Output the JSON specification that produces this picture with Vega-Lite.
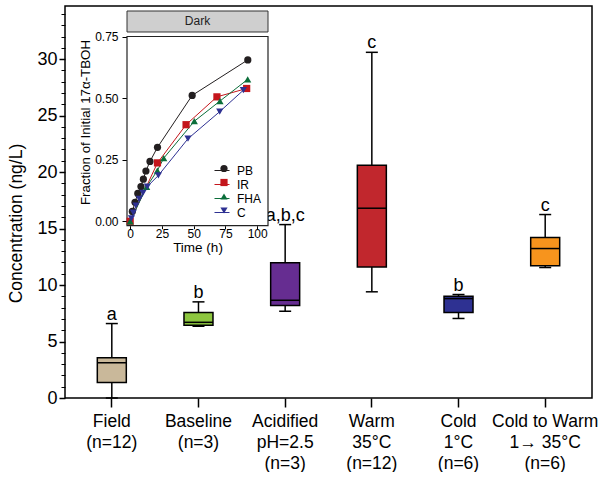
{
  "$schema": "https://vega.github.io/schema/vega-lite/v6.json",
  "padding": {"left": 7, "top": 6, "right": 0, "bottom": 0},
  "background": "white",
  "width": 527,
  "height": 392,
  "config": {
    "font": "Liberation Sans",
    "view": {"stroke": "black", "strokeWidth": 1.5},
    "axis": {"grid": false, "domain": false, "tickColor": "black", "labelColor": "black", "titleColor": "black", "titleFontWeight": "normal", "labelFont": "Liberation Sans", "titleFont": "Liberation Sans"},
    "text": {"font": "Liberation Sans", "color": "black"}
  },
  "layer": [
    {
      "data": {"values": [
        {"group": "Field\n(n=12)", "lo": 0.0, "q1": 1.37, "med": 3.12, "q3": 3.56, "hi": 6.59, "sig": "a"},
        {"group": "Baseline\n(n=3)", "lo": 6.35, "q1": 6.45, "med": 6.7, "q3": 7.57, "hi": 8.51, "sig": "b"},
        {"group": "Acidified\npH=2.5\n(n=3)", "lo": 7.68, "q1": 8.19, "med": 8.65, "q3": 11.98, "hi": 15.35, "sig": "a,b,c"},
        {"group": "Warm\n35°C\n(n=12)", "lo": 9.4, "q1": 11.6, "med": 16.8, "q3": 20.6, "hi": 30.6, "sig": "c"},
        {"group": "Cold\n1°C\n(n=6)", "lo": 7.04, "q1": 7.57, "med": 8.8, "q3": 9.0, "hi": 9.16, "sig": "b"},
        {"group": "Cold to Warm\n1→ 35°C\n(n=6)", "lo": 11.55, "q1": 11.7, "med": 13.23, "q3": 14.2, "hi": 16.24, "sig": "c"}
      ]},
      "encoding": {
        "x": {
          "field": "group", "type": "nominal", "sort": null,
          "scale": {"paddingInner": 0, "paddingOuter": 0.04},
          "axis": {"orient": "bottom", "title": null, "labelAngle": 0, "labelExpr": "split(datum.value, '\\n')", "labelFontSize": 17.5, "labelLineHeight": 21, "labelPadding": 5, "tickSize": 9, "tickWidth": 1.5, "labelAlign": "center"}
        }
      },
      "layer": [
        {
          "mark": {"type": "rule", "stroke": "black", "strokeWidth": 1.5},
          "encoding": {
            "y": {"field": "lo", "type": "quantitative", "scale": {"domain": [0, 34.7], "nice": false, "zero": false},
              "axis": {"orient": "left", "values": [0, 5, 10, 15, 20, 25, 30], "title": "Concentration (ng/L)", "titleFontSize": 17.5, "titlePadding": 11.5, "titleY": 217, "labelFontSize": 18, "tickSize": 6, "tickWidth": 1.5, "labelPadding": 2}},
            "y2": {"field": "hi"}
          }
        },
        {
          "mark": {"type": "bar", "width": 29, "stroke": "black", "strokeWidth": 1.5},
          "encoding": {
            "y": {"field": "q1", "type": "quantitative", "axis": null},
            "y2": {"field": "q3"},
            "fill": {"field": "group", "type": "nominal", "sort": null, "legend": null,
              "scale": {"range": ["#c9b89a", "#8dc63f", "#662d91", "#c1272d", "#2e3192", "#f7941d"]}}
          }
        },
        {
          "mark": {"type": "tick", "color": "black", "size": 29, "thickness": 1.5, "opacity": 1},
          "encoding": {"y": {"field": "med", "type": "quantitative", "axis": null}}
        },
        {
          "mark": {"type": "tick", "color": "black", "size": 12, "thickness": 1.5, "opacity": 1},
          "encoding": {"y": {"field": "hi", "type": "quantitative", "axis": null}}
        },
        {
          "mark": {"type": "tick", "color": "black", "size": 12, "thickness": 1.5, "opacity": 1},
          "encoding": {"y": {"field": "lo", "type": "quantitative", "axis": null}}
        },
        {
          "mark": {"type": "text", "baseline": "alphabetic", "dy": -4, "fontSize": 18},
          "encoding": {
            "y": {"field": "hi", "type": "quantitative",
              "axis": {"orient": "left", "values": [1, 2, 3, 4, 6, 7, 8, 9, 11, 12, 13, 14, 16, 17, 18, 19, 21, 22, 23, 24, 26, 27, 28, 29, 31, 32, 33, 34], "labels": false, "title": null, "tickSize": 4, "tickWidth": 1}},
            "text": {"field": "sig"}
          }
        }
      ],
      "resolve": {"axis": {"y": "independent"}}
    },
    {
      "data": {"values": [
        {"series": "PB", "t": 1.7, "f": 0.040}, {"series": "PB", "t": 3.8, "f": 0.077}, {"series": "PB", "t": 6.0, "f": 0.113},
        {"series": "PB", "t": 8.5, "f": 0.141}, {"series": "PB", "t": 10.4, "f": 0.171}, {"series": "PB", "t": 12.4, "f": 0.204},
        {"series": "PB", "t": 15.6, "f": 0.243}, {"series": "PB", "t": 21.5, "f": 0.300}, {"series": "PB", "t": 48.8, "f": 0.511},
        {"series": "PB", "t": 92.6, "f": 0.655},
        {"series": "IR", "t": 0.0, "f": 0.0}, {"series": "IR", "t": 21.5, "f": 0.237}, {"series": "IR", "t": 44.0, "f": 0.392},
        {"series": "IR", "t": 68.3, "f": 0.505}, {"series": "IR", "t": 91.7, "f": 0.539},
        {"series": "FHA", "t": 0.0, "f": 0.0}, {"series": "FHA", "t": 13.0, "f": 0.14}, {"series": "FHA", "t": 21.4, "f": 0.206},
        {"series": "FHA", "t": 26.4, "f": 0.256}, {"series": "FHA", "t": 50.5, "f": 0.406}, {"series": "FHA", "t": 70.7, "f": 0.488},
        {"series": "FHA", "t": 92.5, "f": 0.576},
        {"series": "C", "t": 1.0, "f": 0.012}, {"series": "C", "t": 2.5, "f": 0.035}, {"series": "C", "t": 4.5, "f": 0.064},
        {"series": "C", "t": 7.2, "f": 0.091}, {"series": "C", "t": 10.1, "f": 0.115}, {"series": "C", "t": 13.5, "f": 0.141},
        {"series": "C", "t": 22.2, "f": 0.186}, {"series": "C", "t": 45.5, "f": 0.335}, {"series": "C", "t": 70.5, "f": 0.445},
        {"series": "C", "t": 89.1, "f": 0.532}
      ]},
      "layer": [
        {
          "data": {"values": [{"label": "Dark"}]},
          "mark": {"type": "rect", "fill": "white", "stroke": "#222222", "strokeWidth": 1.2},
          "encoding": {
            "x": {"datum": -2.5, "type": "quantitative", "scale": {"domain": [-2.5, 108.5], "range": [62, 203], "nice": false, "zero": false},
              "axis": {"orient": "bottom", "offset": -172.3, "title": "Time (h)", "values": [0, 25, 50, 75, 100], "labelFontSize": 12, "titleFontSize": 13.5, "tickSize": 3, "labelPadding": 0, "titlePadding": 1}},
            "x2": {"datum": 108.5},
            "y": {"datum": -0.018, "type": "quantitative", "scale": {"domain": [-0.018, 0.75], "range": [219.7, 30.5], "nice": false, "zero": false},
              "axis": {"orient": "left", "offset": -62, "title": "Fraction of Initial 17α-TBOH", "values": [0, 0.25, 0.5, 0.75], "format": ".2f", "labelFontSize": 12, "titleFontSize": 13.3, "tickSize": 5, "labelPadding": 4, "titlePadding": 2, "titleY": 116}},
            "y2": {"datum": 0.75}
          }
        },
        {
          "data": {"values": [{"label": "Dark"}]},
          "mark": {"type": "rect", "fill": "#cfcfcf", "stroke": "#333333", "strokeWidth": 1},
          "encoding": {
            "x": {"datum": -2.5, "type": "quantitative",
              "axis": {"orient": "bottom", "offset": -172.3, "title": "Time (h)", "values": [0, 25, 50, 75, 100], "labelFontSize": 12, "titleFontSize": 13.5, "tickSize": 3, "labelPadding": 0, "titlePadding": 1}},
            "x2": {"datum": 108.5},
            "y": {"datum": 0.7683, "type": "quantitative",
              "axis": {"orient": "left", "offset": -62, "title": "Fraction of Initial 17α-TBOH", "values": [0, 0.25, 0.5, 0.75], "format": ".2f", "labelFontSize": 12, "titleFontSize": 13.3, "tickSize": 5, "labelPadding": 4, "titlePadding": 2, "titleY": 116}},
            "y2": {"datum": 0.8535}
          }
        },
        {
          "data": {"values": [{"label": "Dark"}]},
          "mark": {"type": "text", "fontSize": 12, "baseline": "middle", "color": "#222222"},
          "encoding": {
            "x": {"datum": 53, "type": "quantitative",
              "axis": {"orient": "bottom", "offset": -172.3, "title": "Time (h)", "values": [0, 25, 50, 75, 100], "labelFontSize": 12, "titleFontSize": 13.5, "tickSize": 3, "labelPadding": 0, "titlePadding": 1}},
            "y": {"datum": 0.811, "type": "quantitative",
              "axis": {"orient": "left", "offset": -62, "title": "Fraction of Initial 17α-TBOH", "values": [0, 0.25, 0.5, 0.75], "format": ".2f", "labelFontSize": 12, "titleFontSize": 13.3, "tickSize": 5, "labelPadding": 4, "titlePadding": 2, "titleY": 116}},
            "text": {"field": "label"}
          }
        },
        {
          "mark": {"type": "line", "strokeWidth": 1},
          "encoding": {
            "x": {"field": "t", "type": "quantitative",
              "axis": {"orient": "bottom", "offset": -172.3, "title": "Time (h)", "values": [0, 25, 50, 75, 100], "labelFontSize": 12, "titleFontSize": 13.5, "tickSize": 3, "labelPadding": 0, "titlePadding": 1}},
            "y": {"field": "f", "type": "quantitative",
              "axis": {"orient": "left", "offset": -62, "title": "Fraction of Initial 17α-TBOH", "values": [0, 0.25, 0.5, 0.75], "format": ".2f", "labelFontSize": 12, "titleFontSize": 13.3, "tickSize": 5, "labelPadding": 4, "titlePadding": 2, "titleY": 116}},
            "color": {"field": "series", "type": "nominal",
              "scale": {"domain": ["PB", "IR", "FHA", "C"], "range": ["#231f20", "#c4161c", "#0b6e3a", "#2e3192"]},
              "legend": {"title": null, "orient": "none", "legendX": 149, "legendY": 156.5, "symbolType": "stroke", "symbolSize": 225, "symbolStrokeWidth": 1, "labelFontSize": 12, "labelOffset": 7, "rowPadding": 0, "padding": 0}}
          }
        },
        {
          "mark": {"type": "point", "filled": true, "size": 52, "opacity": 1},
          "encoding": {
            "x": {"field": "t", "type": "quantitative",
              "axis": {"orient": "bottom", "offset": -172.3, "title": "Time (h)", "values": [0, 25, 50, 75, 100], "labelFontSize": 12, "titleFontSize": 13.5, "tickSize": 3, "labelPadding": 0, "titlePadding": 1}},
            "y": {"field": "f", "type": "quantitative",
              "axis": {"orient": "left", "offset": -62, "title": "Fraction of Initial 17α-TBOH", "values": [0, 0.25, 0.5, 0.75], "format": ".2f", "labelFontSize": 12, "titleFontSize": 13.3, "tickSize": 5, "labelPadding": 4, "titlePadding": 2, "titleY": 116}},
            "color": {"field": "series", "type": "nominal",
              "legend": {"title": null, "orient": "none", "legendX": 153, "legendY": 156.5, "symbolSize": 52, "labelExpr": "' '", "labelFontSize": 12, "labelOffset": 7, "rowPadding": 0, "padding": 0, "symbolOpacity": 1}},
            "shape": {"field": "series", "type": "nominal",
              "scale": {"domain": ["PB", "IR", "FHA", "C"], "range": ["circle", "square", "triangle-up", "triangle-down"]},
              "legend": {"title": null, "orient": "none", "legendX": 153, "legendY": 156.5, "symbolSize": 52, "labelExpr": "' '", "labelFontSize": 12, "labelOffset": 7, "rowPadding": 0, "padding": 0, "symbolOpacity": 1}}
          }
        }
      ],
      "resolve": {"legend": {"color": "independent", "shape": "independent"}}
    }
  ],
  "resolve": {"scale": {"x": "independent", "y": "independent"}, "axis": {"x": "independent", "y": "independent"}}
}
